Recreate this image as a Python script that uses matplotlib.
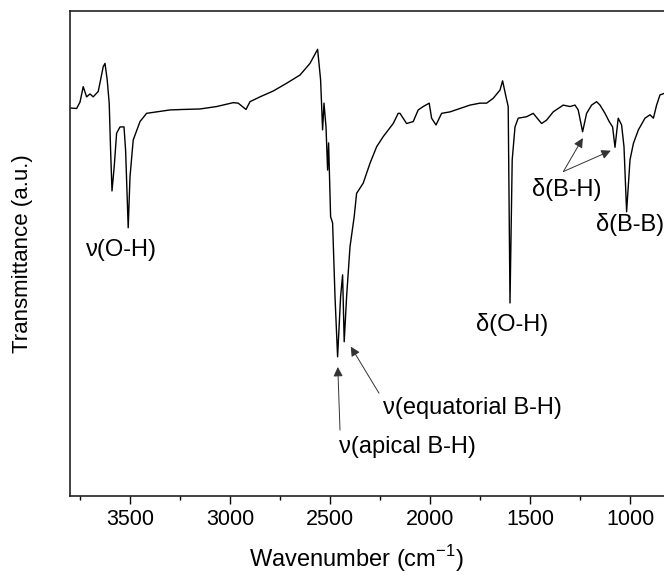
import numpy as np
import matplotlib.pyplot as plt
from matplotlib.ticker import MultipleLocator, NullLocator

plt.rcParams['font.family'] = ['Liberation Sans', 'DejaVu Sans']
plt.rcParams['mathtext.fontset'] = 'custom'
plt.rcParams['mathtext.rm'] = 'Liberation Sans'

# wavenumber (cm-1) and transmittance (a.u.)
wavenumber = [3800, 3767, 3750, 3734, 3717, 3700, 3684, 3659, 3650, 3634,
              3625, 3614, 3604, 3597, 3590, 3579, 3567, 3550, 3530, 3522,
              3509, 3500, 3484, 3450, 3417, 3367, 3300, 3234, 3150, 3067,
              2984, 2959, 2920, 2900, 2850, 2784, 2717, 2650, 2600, 2562,
              2547, 2537, 2530, 2520, 2512, 2507, 2497, 2487, 2475, 2462,
              2447, 2437, 2429, 2417, 2400, 2379, 2367, 2334, 2300, 2267,
              2234, 2184, 2159, 2150, 2117, 2084, 2059, 2034, 2004, 1992,
              1970, 1942, 1900, 1850, 1800, 1750, 1717, 1684, 1650, 1637,
              1620, 1609, 1600, 1589, 1575, 1559, 1517, 1484, 1442, 1417,
              1384, 1334, 1300, 1275, 1259, 1237, 1217, 1192, 1167, 1150,
              1125, 1104, 1087, 1075, 1059, 1042, 1030, 1017, 1000, 983,
              958, 925, 900, 883, 867, 850, 830]
transmittance = [80.0, 79.9, 81.2, 84.4, 82.3, 82.9, 82.3, 83.4, 85.2, 88.5,
                 89.2, 85.8, 81.0, 71.3, 62.9, 67.9, 74.8, 76.1, 76.1, 71.3,
                 55.3, 65.8, 73.4, 77.2, 78.9, 79.2, 79.6, 79.7, 79.8, 80.3,
                 81.1, 81.0, 79.7, 81.3, 82.3, 83.5, 85.1, 86.8, 89.2, 92.1,
                 85.8, 75.5, 81.0, 76.1, 67.2, 72.8, 57.6, 56.3, 41.1, 28.7,
                 41.1, 45.6, 31.8, 41.1, 51.4, 57.6, 62.4, 64.5, 68.6, 72.0,
                 74.1, 76.8, 78.9, 78.9, 76.8, 77.2, 79.6, 80.3, 81.0, 77.9,
                 76.5, 78.9, 79.2, 79.9, 80.6, 81.0, 81.0, 82.0, 83.7, 85.6,
                 82.3, 80.3, 39.8, 69.3, 76.1, 77.9, 78.2, 78.9, 76.8, 77.5,
                 79.2, 80.6, 80.3, 80.6, 79.6, 75.1, 78.9, 80.6, 81.3, 80.6,
                 78.9, 77.2, 76.1, 71.9, 77.9, 76.5, 72.0, 58.6, 69.3, 72.7,
                 75.5, 77.9, 78.6, 77.9, 80.6, 82.7, 83.0]

fig = plt.figure(figsize=(6.64, 5.78), dpi=100)
ax = fig.add_axes([70/664, 82/578, 600/664, 485/578])

ax.plot(wavenumber, transmittance, color='black', lw=1.0)

ax.set_xlim(3800, 800)
ax.set_ylim(0, 100)
ax.xaxis.set_major_locator(MultipleLocator(500))
ax.xaxis.set_minor_locator(MultipleLocator(250))
ax.yaxis.set_major_locator(NullLocator())
ax.tick_params(axis='x', which='major', direction='out', length=5.5, width=1,
               labelsize=15.5, pad=4)
ax.tick_params(axis='x', which='minor', direction='out', length=3, width=1)
for s in ax.spines.values():
    s.set_linewidth(1.2)
    s.set_color('#222222')

ax.set_xlabel('Wavenumber (cm$^{-1}$)', fontsize=17)
ax.xaxis.set_label_coords(0.478, -0.098)
ax.set_ylabel('Transmittance (a.u.)', fontsize=16)
ax.yaxis.set_label_coords(-0.062, 0.5)

fs = 17
ax.text(3545, 50.7, 'ν(O-H)', fontsize=fs, ha='center', va='center')
ax.text(1790, 18.1, 'ν(equatorial B-H)', fontsize=fs, ha='center', va='center')
ax.text(2115, 10.1, 'ν(apical B-H)', fontsize=fs, ha='center', va='center')
ax.text(1590, 35.3, 'δ(O-H)', fontsize=fs, ha='center', va='center')
ax.text(1315, 63.1, 'δ(B-H)', fontsize=fs, ha='center', va='center')
ax.text(1170, 55.9, 'δ(B-B)', fontsize=fs, ha='left', va='center')

arrow = dict(arrowstyle='-|>', color='#333333', lw=0.7, mutation_scale=14,
             shrinkA=0, shrinkB=0)
ax.annotate('', xy=(2461, 26.6), xytext=(2450, 13.6), arrowprops=arrow)
ax.annotate('', xy=(2396, 30.8), xytext=(2255, 21.2), arrowprops=arrow)
ax.annotate('', xy=(1236, 73.8), xytext=(1333, 66.9), arrowprops=arrow)
ax.annotate('', xy=(1096, 71.2), xytext=(1333, 66.9), arrowprops=arrow)

plt.savefig('out.png', dpi=100)
